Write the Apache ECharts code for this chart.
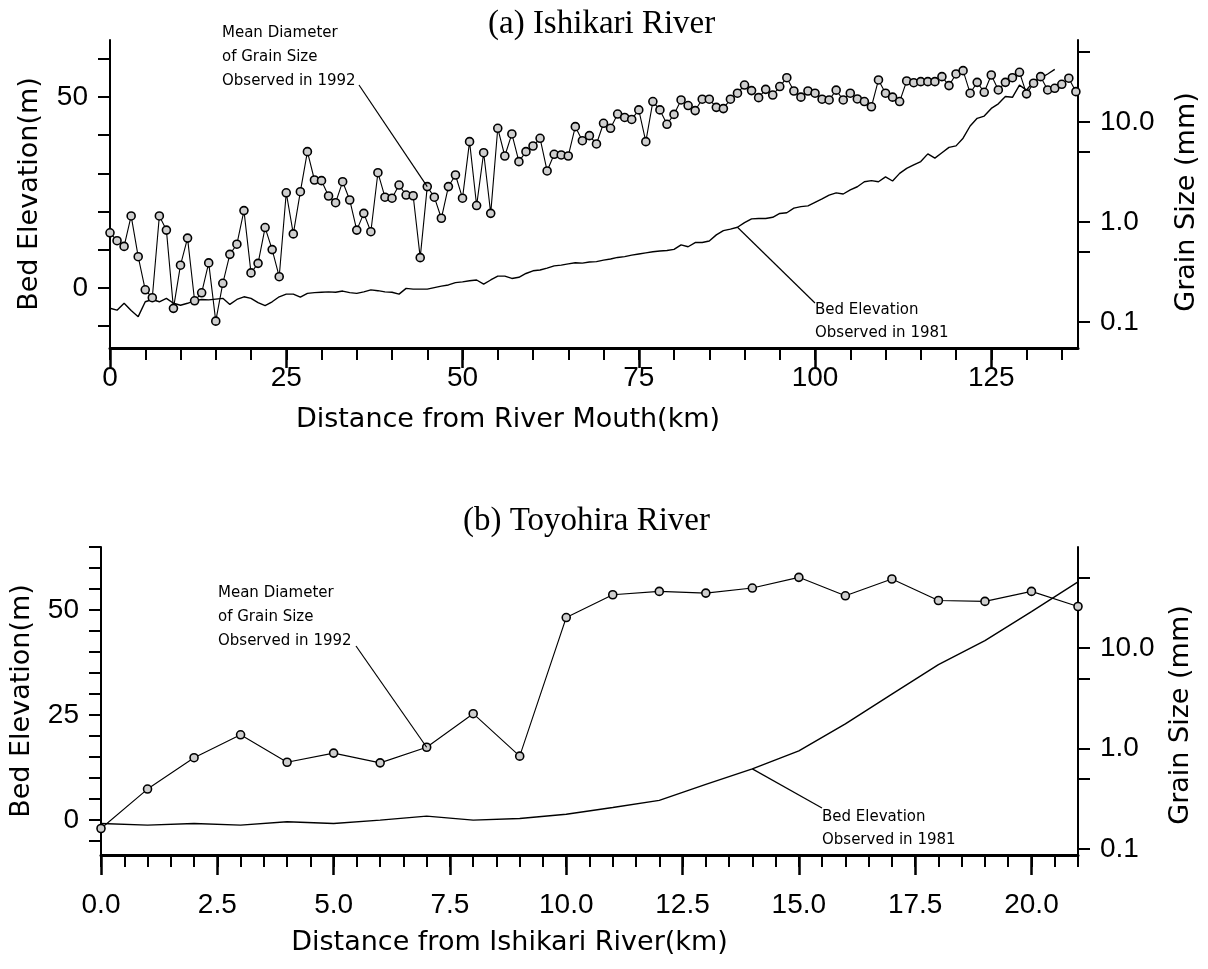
<!DOCTYPE html>
<html><head><meta charset="utf-8">
<script src="https://cdn.jsdelivr.net/npm/echarts@6/dist/echarts.min.js"></script>
<style>html,body{margin:0;padding:0;background:#fff}#c{width:1208px;height:969px}</style>
</head><body><div id="c"></div>
<script>
// ---------- (a) Ishikari River ----------
const topKm = [0,1,2,3,4,5,6,7,8,9,10,11,12,13,14,15,16,17,18,19,20,21,22,23,24,25,26,27,28,29,30,31,32,33,34,35,36,37,38,39,40,41,42,43,44,45,46,47,48,49,50,51,52,53,54,55,56,57,58,59,60,61,62,63,64,65,66,67,68,69,70,71,72,73,74,75,76,77,78,79,80,81,82,83,84,85,86,87,88,89,90,91,92,93,94,95,96,97,98,99,100,101,102,103,104,105,106,107,108,109,110,111,112,113,114,115,116,117,118,119,120,121,122,123,124,125,126,127,128,129,130,131,132,133,134,135,136,137];
const topGrain = [0.78,0.65,0.57,1.15,0.45,0.21,0.175,1.15,0.83,0.137,0.37,0.69,0.163,0.196,0.39,0.102,0.244,0.475,0.60,1.30,0.31,0.386,0.88,0.53,0.284,1.96,0.76,2.01,5.05,2.63,2.59,1.82,1.56,2.53,1.66,0.83,1.22,0.80,3.11,1.77,1.73,2.34,1.86,1.83,0.44,2.26,1.77,1.09,2.26,2.95,1.73,6.36,1.46,4.93,1.22,8.65,4.57,7.59,4.01,5.05,5.75,6.87,3.24,4.75,4.68,4.57,8.98,6.50,7.3,6.03,9.7,8.65,12.0,11.1,10.6,13.2,6.36,16.0,13.2,9.48,11.9,16.6,14.6,13.0,16.9,16.9,14.0,13.6,16.9,19.4,23.4,20.6,17.5,21.2,18.6,22.6,27.7,20.4,17.7,20.4,19.4,16.9,16.6,20.8,16.6,19.4,17.0,16.0,14.2,26.3,19.4,17.7,16.0,25.7,24.7,25.3,25.3,25.3,28.4,23.1,30.2,32.6,19.4,24.9,19.8,29.5,20.9,24.9,27.7,31.4,19.1,24.4,28.4,20.9,21.7,23.8,27.4,20.1];
const topBed = [-5.3,-5.8,-4.0,-5.9,-7.5,-3.6,-3.0,-3.6,-2.7,-4.0,-4.5,-4.0,-3.3,-3.0,-3.1,-2.9,-2.7,-4.3,-3.0,-2.3,-2.7,-3.8,-4.6,-3.6,-2.3,-1.6,-1.6,-2.4,-1.4,-1.2,-1.1,-1.0,-1.1,-0.8,-1.2,-1.4,-1.0,-0.5,-0.7,-1.0,-1.1,-1.6,-0.1,-0.3,-0.3,-0.3,0.1,0.5,0.8,1.4,1.6,1.9,2.1,1.0,2.1,3.1,3.1,2.5,2.8,3.8,4.5,4.7,5.2,5.8,6.0,6.3,6.6,6.5,6.8,6.9,7.3,7.6,8.0,8.2,8.6,8.9,9.2,9.5,9.7,9.8,10.1,11.3,10.8,11.9,11.9,12.3,13.9,15.0,15.4,15.9,17.1,18.1,18.2,18.2,18.5,19.5,19.7,20.9,21.3,21.5,22.4,23.3,24.3,24.9,24.6,25.7,26.5,27.8,28.1,27.8,29.1,28.0,30.0,31.3,32.2,33.1,35.1,34.0,35.4,36.8,37.2,39.2,42.4,44.4,45.0,47.0,48.2,50.1,49.9,53.1,51.8,54.0,54.9,56.0,57.2];
const topXTicks = [0,5,10,15,20,25,30,35,40,45,50,55,60,65,70,75,80,85,90,95,100,105,110,115,120,125,130,135];
const topXLabels = [0,25,50,75,100,125];
const topElevTicks = [-10,0,10,20,30,40,50,60];
const topElevLabels = [0,50];
const topGrainTicks = [0.1,0.5,1,5,10,50];

// ---------- (b) Toyohira River ----------
const botKm = [0,1,2,3,4,5,6,7,8,9,10,11,12,13,14,15,16,17,18,19,20,21];
const botGrain = [0.16,0.395,0.81,1.37,0.73,0.90,0.72,1.03,2.22,0.84,20.1,33.9,36.6,35.2,39.5,50.5,33.1,48.6,29.7,29.1,36.6,25.9];
const botBed = [-0.8,-1.2,-0.8,-1.2,-0.4,-0.8,0,0.95,0,0.4,1.4,3.0,4.7,8.5,12.2,16.5,22.9,30.0,37.0,42.7,49.6,56.7];
const botXTicks = [0,0.5,1,1.5,2,2.5,3,3.5,4,4.5,5,5.5,6,6.5,7,7.5,8,8.5,9,9.5,10,10.5,11,11.5,12,12.5,13,13.5,14,14.5,15,15.5,16,16.5,17,17.5,18,18.5,19,19.5,20,20.5,21];
const botXLabels = [0,2.5,5,7.5,10,12.5,15,17.5,20];
const botElevTicks = [-5,0,5,10,15,20,25,30,35,40,45,50,55,60,65];
const botElevLabels = [0,25,50];
const botGrainTicks = [0.1,0.5,1,5,10,50];
const grainLabels = [0.1,1,10];

const NUM_FONT = 'Liberation Sans';
const NAME_FONT = 'DejaVu Sans';

function xMain(grid, max, ticks, labels, name, margin, nameGap, pad, fmt) {
  return {
    gridIndex: grid, type: 'value', min: 0, max: max,
    axisLine: { onZero: false, lineStyle: { color: '#000', width: 3 } },
    axisTick: { customValues: ticks, length: 12, lineStyle: { color: '#000', width: 2 } },
    axisLabel: { customValues: labels, margin: margin, color: '#000', fontSize: 28, fontFamily: NUM_FONT, formatter: fmt },
    splitLine: { show: false },
    name: name, nameLocation: 'middle', nameGap: nameGap,
    nameTextStyle: { color: '#000', fontSize: 27, fontFamily: NAME_FONT, padding: pad }
  };
}
function xMajor(grid, max, labels) {
  return {
    gridIndex: grid, type: 'value', min: 0, max: max, position: 'bottom',
    axisLine: { show: false, onZero: false },
    axisTick: { customValues: labels, length: 20, lineStyle: { color: '#000', width: 2.5 } },
    axisLabel: { show: false }, splitLine: { show: false }
  };
}
function yElev(grid, min, max, ticks, labels, nameGap) {
  return {
    gridIndex: grid, type: 'value', min: min, max: max, position: 'left',
    axisLine: { show: true, onZero: false, lineStyle: { color: '#000', width: 2 } },
    axisTick: { show: true, customValues: ticks, length: 12, lineStyle: { color: '#000', width: 2 } },
    axisLabel: { customValues: labels, margin: 22, color: '#000', fontSize: 28, fontFamily: NUM_FONT },
    splitLine: { show: false },
    name: 'Bed Elevation(m)', nameLocation: 'middle', nameGap: nameGap,
    nameTextStyle: { color: '#000', fontSize: 27, fontFamily: NAME_FONT }
  };
}
function yGrain(grid, min, max, ticks, nameGap, pad) {
  return {
    gridIndex: grid, type: 'log', logBase: 10, min: min, max: max, position: 'right',
    axisLine: { show: true, onZero: false, lineStyle: { color: '#000', width: 2 } },
    axisTick: { show: true, customValues: ticks, length: 12, lineStyle: { color: '#000', width: 2 } },
    axisLabel: { customValues: grainLabels, margin: 22, color: '#000', fontSize: 28, fontFamily: NUM_FONT,
      formatter: v => Number(v).toFixed(1) },
    splitLine: { show: false },
    name: 'Grain Size (mm)', nameLocation: 'middle', nameGap: nameGap,
    nameTextStyle: { color: '#000', fontSize: 27, fontFamily: NAME_FONT, padding: pad }
  };
}
function bedSeries(xi, yi, km, vals) {
  return { type: 'line', xAxisIndex: xi, yAxisIndex: yi, data: vals.map((v, i) => [km[i], v]),
    symbol: 'none', lineStyle: { color: '#000', width: 1.4 }, silent: true, z: 2 };
}
function grainSeries(xi, yi, km, vals, size) {
  return { type: 'line', xAxisIndex: xi, yAxisIndex: yi, data: vals.map((v, i) => [km[i], v]),
    symbol: 'circle', symbolSize: size, showAllSymbol: true,
    itemStyle: { color: '#cfcfcf', borderColor: '#000', borderWidth: 1.6 },
    lineStyle: { color: '#000', width: 1.1 }, silent: true, z: 3 };
}

const chart = echarts.init(document.getElementById('c'), null, { renderer: 'canvas' });
chart.setOption({
  animation: false,
  backgroundColor: '#fff',
  title: [
    { text: '(a) Ishikari River', left: 488, top: 8, padding: 0,
      textStyle: { fontFamily: 'Liberation Serif', fontWeight: 'normal', fontSize: 33, color: '#000' } },
    { text: '(b) Toyohira River', left: 463, top: 505, padding: 0,
      textStyle: { fontFamily: 'Liberation Serif', fontWeight: 'normal', fontSize: 33, color: '#000' } }
  ],
  grid: [
    { left: 110, top: 40, width: 978, height: 308, containLabel: false },
    { left: 101, top: 547, width: 977, height: 308, containLabel: false }
  ],
  xAxis: [
    xMain(0, 137.3, topXTicks, topXLabels, 'Distance from River Mouth(km)', 16, 58, [0, 172, 0, 0], v => String(v)),
    xMajor(0, 137.3, topXLabels),
    xMain(1, 21, botXTicks, botXLabels, 'Distance from Ishikari River(km)', 36, 74, [0, 160, 0, 0], v => Number(v).toFixed(1)),
    xMajor(1, 21, botXLabels)
  ],
  yAxis: [
    yElev(0, -15.7, 64.9, topElevTicks, topElevLabels, 67),
    yGrain(0, 0.055, 66, topGrainTicks, 95, [0, 16, 0, 0]),
    yElev(1, -8.3, 65, botElevTicks, botElevLabels, 66),
    yGrain(1, 0.0872, 101.2, botGrainTicks, 89, [0, 28, 0, 0])
  ],
  series: [
    bedSeries(0, 0, topKm, topBed),
    grainSeries(0, 1, topKm, topGrain, 8),
    bedSeries(2, 2, botKm, botBed),
    grainSeries(2, 3, botKm, botGrain, 8)
  ]
});

// annotations with leader lines to the data they label
const annFont = '15px "DejaVu Sans"';
const pTopGrain = chart.convertToPixel({ xAxisIndex: 0, yAxisIndex: 1 }, [topKm[45], topGrain[45]]);
const pTopBed = chart.convertToPixel({ xAxisIndex: 0, yAxisIndex: 0 }, [topKm[89], topBed[89]]);
const pBotGrain = chart.convertToPixel({ xAxisIndex: 2, yAxisIndex: 3 }, [botKm[7], botGrain[7]]);
const pBotBed = chart.convertToPixel({ xAxisIndex: 2, yAxisIndex: 2 }, [botKm[14], botBed[14]]);
function ann(x, y, txt, lh) {
  return { type: 'text', x: x, y: y, z: 10,
    style: { text: txt, font: annFont, fill: '#000', lineHeight: lh, align: 'left', verticalAlign: 'top' } };
}
function lead(x1, y1, x2, y2) {
  return { type: 'line', z: 10, shape: { x1: x1, y1: y1, x2: x2, y2: y2 },
    style: { stroke: '#000', lineWidth: 1.2 } };
}
chart.setOption({
  graphic: [
    ann(222, 21, 'Mean Diameter\nof Grain Size\nObserved in 1992', 24),
    lead(359, 85, pTopGrain[0], pTopGrain[1]),
    ann(815, 299, 'Bed Elevation\nObserved in 1981', 23),
    lead(pTopBed[0], pTopBed[1], 815, 303),
    ann(218, 581, 'Mean Diameter\nof Grain Size\nObserved in 1992', 24),
    lead(356, 646, pBotGrain[0], pBotGrain[1]),
    ann(822, 806, 'Bed Elevation\nObserved in 1981', 23),
    lead(pBotBed[0], pBotBed[1], 822, 808)
  ]
});
</script>
</body></html>
